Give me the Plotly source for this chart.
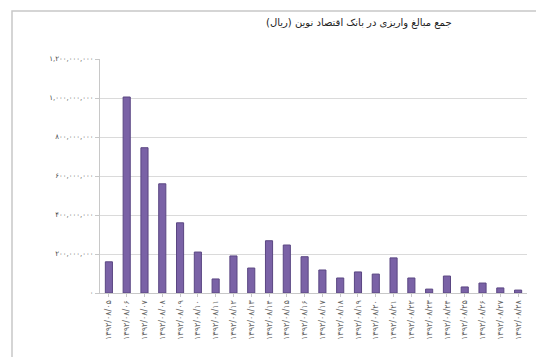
import plotly.graph_objects as go

# Deposit dates (Solar Hijri) and totals in rials
dates = ["۱۳۹۲/۰۸/%s" % d for d in [
    "۰۵", "۰۶", "۰۷", "۰۸", "۰۹", "۱۰", "۱۱", "۱۲", "۱۳", "۱۴", "۱۵", "۱۶",
    "۱۷", "۱۸", "۱۹", "۲۰", "۲۱", "۲۲", "۲۳", "۲۴", "۲۵", "۲۶", "۲۷", "۲۸"]]
amounts = [160e6, 1005e6, 745e6, 560e6, 360e6, 210e6, 72e6, 190e6, 128e6, 268e6,
           246e6, 186e6, 118e6, 77e6, 108e6, 97e6, 180e6, 77e6, 20e6, 87e6,
           31e6, 51e6, 26e6, 15e6]

tick_vals = [0, 200e6, 400e6, 600e6, 800e6, 1000e6, 1200e6]
tick_text = ["۰", "۲۰۰,۰۰۰,۰۰۰", "۴۰۰,۰۰۰,۰۰۰", "۶۰۰,۰۰۰,۰۰۰",
             "۸۰۰,۰۰۰,۰۰۰", "۱,۰۰۰,۰۰۰,۰۰۰", "۱,۲۰۰,۰۰۰,۰۰۰"]

title_text = "جمع مبالغ واریزی در بانک اقتصاد نوین (ریال)"

fig = go.Figure(go.Bar(
    x=dates, y=amounts,
    marker=dict(color="#7A62A6", line=dict(color="#5A4682", width=1)),
))

L, R, T, B = 100, 9, 59, 64
W, H = 536, 357
pw, ph = W - L - R, H - T - B

def px(x):
    return (x - L) / pw

def py(y):
    return (H - B - y) / ph

fig.update_layout(
    width=W, height=H,
    margin=dict(l=L, r=R, t=T, b=B),
    paper_bgcolor="white", plot_bgcolor="white",
    font=dict(family="DejaVu Sans", color="#444444"),
    bargap=0.6,
    showlegend=False,
    xaxis=dict(
        type="category", tickangle=-90, tickfont=dict(size=8, color="#666666"),
        showline=True, linecolor="#C8C8C8", ticks="outside", ticklen=3,
        tickcolor="#C8C8C8", showgrid=False,
    ),
    yaxis=dict(
        range=[0, 1.2e9], tickvals=tick_vals, ticktext=tick_text,
        tickfont=dict(size=7, color="#444444"),
        showgrid=True, gridcolor="#DADADA", gridwidth=1,
        showline=True, linecolor="#C8C8C8", ticks="outside", ticklen=4,
        tickcolor="#C8C8C8", zeroline=False,
    ),
    annotations=[dict(
        text=title_text, xref="paper", yref="paper",
        x=px(359), y=py(23), xanchor="center", yanchor="middle",
        showarrow=False, font=dict(size=10, color="#222222"),
    )],
    shapes=[dict(
        type="rect", xref="paper", yref="paper",
        x0=px(12), x1=px(545), y0=py(370), y1=py(11),
        line=dict(color="#C8C8C8", width=1.5),
    )],
)

fig.write_html("out.html")
